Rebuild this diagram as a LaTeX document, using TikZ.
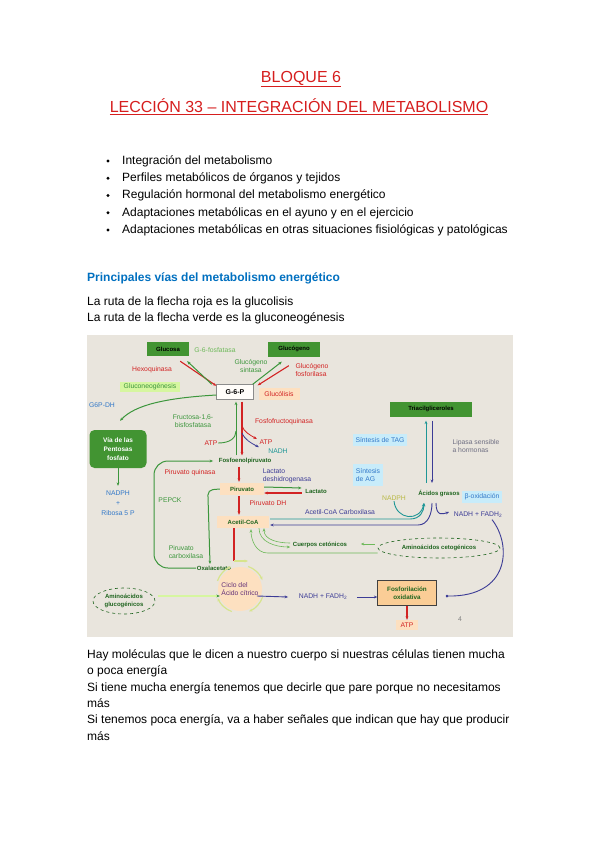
\documentclass[tikz,border=0pt]{standalone}
\usepackage{fontspec}
\setmainfont{Liberation Sans}
\usetikzlibrary{positioning,calc,arrows.meta,shapes.geometric}

\definecolor{titlered}{RGB}{214,30,30}
\definecolor{headblue}{RGB}{0,112,192}
\definecolor{slidebg}{RGB}{233,229,221}
\definecolor{boxgreen}{RGB}{66,148,50}
\definecolor{dkgreen}{RGB}{30,100,30}
\definecolor{mgreen}{RGB}{60,150,60}
\definecolor{lgreen}{RGB}{110,185,90}
\definecolor{lgfill}{RGB}{214,246,160}
\definecolor{redd}{RGB}{210,35,35}
\definecolor{navy}{RGB}{60,60,150}
\definecolor{skyblue}{RGB}{50,120,200}
\definecolor{tealc}{RGB}{30,150,150}
\definecolor{lblue}{RGB}{200,236,250}
\definecolor{peach}{RGB}{253,224,192}
\definecolor{peachdk}{RGB}{250,205,150}
\definecolor{olive}{RGB}{185,185,70}
\definecolor{cycc}{RGB}{215,228,140}
\definecolor{greyblue}{RGB}{110,110,130}

\tikzset{
  body/.style={anchor=west, inner sep=0pt, text height=9pt, text depth=2.5pt,
    font=\fontsize{12}{14}\selectfont},
  lbl/.style={inner sep=0.6pt, align=center, font=\fontsize{6.8}{8}\selectfont},
  bl/.style={inner sep=0.6pt, align=center, font=\bfseries\fontsize{6}{7.5}\selectfont},
  gbox/.style={bl, fill=boxgreen, minimum height=14pt},
  softbox/.style={lbl, fill=lblue},
  redarr/.style={->, draw=redd, line width=1.1pt},
  grarr/.style={->, draw=mgreen, line width=1pt},
  lgrarr/.style={->, draw=lgreen, line width=0.6pt},
  tealarr/.style={->, draw=tealc, line width=0.9pt},
  purarr/.style={->, draw=navy, line width=0.9pt},
  cycarr/.style={->, draw=cycc, line width=1.3pt},
  aaell/.style={ellipse, draw=dkgreen, dashed, line width=0.6pt, inner sep=0pt,
    bl, text=dkgreen}
}

\begin{document}
\begin{tikzpicture}[x=1pt, y=-1pt, >={Stealth[length=3.4pt,width=2.8pt]}]
\useasboundingbox (0,0) rectangle (599,848);
\fill[white] (0,0) rectangle (599,848);

% headings
\node[text=titlered, font=\fontsize{16}{18}\selectfont] (bloque) at (301,79) {\underline{BLOQUE 6}};
\node[text=titlered, font=\fontsize{16}{18}\selectfont] (leccion) at (299,107)
  {\underline{LECCIÓN 33 – INTEGRACIÓN DEL METABOLISMO}};

% bullet list
\foreach \txt [count=\i] in {Integración del metabolismo,
    Perfiles metabólicos de órganos y tejidos,
    Regulación hormonal del metabolismo energético,
    Adaptaciones metabólicas en el ayuno y en el ejercicio,
    Adaptaciones metabólicas en otras situaciones fisiológicas y patológicas}{
  \node[body] (item\i) at (122,{161+17.25*(\i-1)}) {\txt};
  \fill ($(item\i.west)+(-14,0)$) circle (1.7pt);
}

\node[body, text=headblue, font=\bfseries\fontsize{12}{14}\selectfont] (vias) at (87,278)
  {Principales vías del metabolismo energético};
\node[body] (roja) at (87,302) {La ruta de la flecha roja es la glucolisis};
\node[body, below=4.5pt of roja.south west, anchor=north west] (verde)
  {La ruta de la flecha verde es la gluconeogénesis};

% the slide
\fill[slidebg] (87,335) rectangle (513,637);

\node[gbox, minimum width=42pt] (glucosa) at (168,349) {Glucosa};
\node[gbox, minimum width=52pt, minimum height=15pt] (glucogeno) at (294,349) {Glucógeno};
\node[lbl, text=lgreen] (gfosfatasa) at (215,350) {G-6-fosfatasa};
\node[lbl, text=redd] (hexo) at (152,370) {Hexoquinasa};
\node[lbl, text=mgreen] (gsint) at (251,366) {Glucógeno\\sintasa};
\node[lbl, text=redd, align=left] (gfosf) at (312,370) {Glucógeno\\fosforilasa};
\node[bl, draw=black!45, fill=white!92!peach, minimum width=37pt, minimum height=15pt,
  font=\bfseries\fontsize{7}{8}\selectfont] (g6p) at (235,392) {G-6-P};
\node[lbl, fill=peach, text=redd, minimum width=41pt, minimum height=12pt] (glucolisis) at (279,394) {Glucólisis};
\node[lbl, fill=lgfill, text=mgreen, minimum width=60pt, minimum height=10pt] (gneo) at (150,387) {Gluconeogénesis};
\node[lbl, text=skyblue] (g6pdh) at (102,405) {G6P-DH};
\node[bl, fill=boxgreen, text=white, rounded corners=5pt, minimum width=57pt, minimum height=38pt,
  font=\bfseries\fontsize{6.5}{9}\selectfont] (pentosas) at (118,449) {Vía de las\\Pentosas\\fosfato};
\node[lbl, text=skyblue, font=\fontsize{6.8}{10}\selectfont] (nadphr) at (118,503) {NADPH\\+\\Ribosa 5 P};

\node[lbl, text=mgreen] (fbp) at (193,421) {Fructosa-1,6-\\bisfosfatasa};
\node[lbl, text=redd] (pfk) at (284,422) {Fosfofructoquinasa};
\node[lbl, text=redd] (atpl) at (211,443) {ATP};
\node[lbl, text=redd] (atpr) at (266,442) {ATP};
\node[lbl, text=tealc] (nadh1) at (278,451) {NADH};
\node[bl, text=dkgreen] (pep) at (245,461) {Fosfoenolpiruvato};
\node[lbl, text=redd] (pk) at (190,473) {Piruvato quinasa};
\node[lbl, text=mgreen] (pepck) at (170,500) {PEPCK};
\node[bl, fill=peach, text=dkgreen, minimum width=44pt, minimum height=12pt] (piruvato) at (242,489) {Piruvato};
\node[lbl, text=navy, align=left] (ldh) at (287,476) {Lactato\\deshidrogenasa};
\node[bl, text=dkgreen] (lactato) at (316,491) {Lactato};
\node[lbl, text=redd] (pdh) at (268,503) {Piruvato DH};
\node[bl, fill=peach, text=dkgreen, minimum width=52pt, minimum height=12pt] (acetil) at (243,522) {Acetil-CoA};
\node[lbl, text=mgreen, align=left] (pcarb) at (186,552) {Piruvato\\carboxilasa};
\node[bl, text=dkgreen] (oxal) at (214,568) {Oxalacetato};
\node[circle, fill=peach, minimum size=44pt, inner sep=0pt, lbl, align=left, text=navy!80!red]
  (ciclo) at (240,589) {Ciclo del\\Ácido cítrico};
\node[aaell, minimum width=62pt, minimum height=26pt] (aaglu) at (124,601) {Aminoácidos\\glucogénicos};
\node[lbl, text=navy] (nadh2) at (323,597) {NADH + FADH\textsubscript{2}};
\node[bl, draw=black!75, fill=peachdk, text=dkgreen, minimum width=59pt, minimum height=25pt,
  font=\bfseries\fontsize{6.3}{8}\selectfont] (fosfox) at (407,593) {Fosforilación\\oxidativa};
\node[lbl, fill=peach, text=redd, minimum width=22pt, minimum height=10pt] (atpb) at (407,625) {ATP};
\node[lbl, text=gray] (pgno) at (460,619) {4};
\node[bl, text=dkgreen] (cuerpos) at (320,545) {Cuerpos cetónicos};
\node[aaell, minimum width=122pt, minimum height=20pt] (aaceto) at (439,548) {Aminoácidos cetogénicos};

\node[gbox, minimum width=82pt, minimum height=15pt] (tag) at (431,409) {Triacilgliceroles};
\node[softbox, text=skyblue, minimum width=54pt, minimum height=12pt] (sinttag) at (380,440) {Síntesis de TAG};
\node[lbl, text=greyblue, align=left] (lipasa) at (476,446) {Lipasa sensible\\a hormonas};
\node[softbox, text=skyblue, minimum width=30pt, minimum height=22pt, align=left] (sintag) at (368,475) {Síntesis\\de AG};
\node[bl, text=dkgreen] (acgrasos) at (439,493) {Ácidos grasos};
\node[lbl, text=olive] (nadph2) at (394,498) {NADPH};
\node[lbl, text=navy] (accarb) at (340,512) {Acetil-CoA Carboxilasa};
\node[softbox, text=skyblue, minimum width=40pt, minimum height=12pt] (boxid) at (482,497) {β-oxidación};
\node[lbl, text=navy] (nadh3) at (478,515) {NADH + FADH\textsubscript{2}};

\coordinate (glj) at (236,431);
\coordinate (rj1) at (242,426);
\coordinate (rj2) at (242,433);
\coordinate (cc) at (234,561);
\coordinate (ccin) at (248,561);
\coordinate (agtip) at (424,503);

% glucose / glycogen
\draw[redarr] ($(glucosa.south east)+(-9,5)$) -- ($(g6p.north west)+(0,1.5)$);
\draw[grarr] ($(g6p.north west)+(-4.5,0)$) -- ($(glucosa.south east)+(-2,5)$);
\draw[grarr] ($(g6p.north east)+(-1,0)$) -- ($(glucogeno.south west)+(14,5)$);
\draw[redarr] ($(glucogeno.south west)+(21,9)$) -- ($(g6p.north east)+(4,1)$);
\draw[grarr] ($(g6p.west)+(0,3)$) .. controls (165,398) and (135,405) .. ($(pentosas.north)+(2,-9)$);
\draw[grarr] (pentosas.south) -- ($(nadphr.north)+(0,-4)$);

% glycolysis / gluconeogenesis
\draw[grarr] ($(pep.north)+(-9,-2)$) -- ($(g6p.south)+(1,2)$);
\draw[redarr] ($(g6p.south)+(7,2)$) -- ($(pep.north)+(-3,-2)$);
\draw[mgreen, line width=0.9pt] (atpl.east) .. controls (230,443) and (236,438) .. (glj);
\draw[redarr, line width=0.8pt] (rj1) .. controls (244,432) and (250,435) .. ($(atpr.west)+(-2,-3)$);
\draw[purarr, line width=0.8pt] (rj2) .. controls (245,440) and (251,443) .. ($(atpr.south west)+(0,2)$);
\draw[redarr] ($(pep.south)+(-6,2)$) -- ($(piruvato.north)+(-3,-1)$);
\draw[grarr] ($(piruvato.east)+(0,-2)$) -- ($(lactato.west)+(-3,-3)$);
\draw[redarr] ($(lactato.west)+(-3,2)$) -- ($(piruvato.east)+(0,4)$);
\draw[redarr] ($(piruvato.south)+(-3,1)$) -- ($(acetil.north)+(-4,-1)$);
\draw[redd, line width=1.1pt] ($(acetil.south)+(-9,0)$) -- (cc);
\draw[cycarr] (cc) -- (ccin);
\draw[grarr, rounded corners=5pt] (piruvato.west) -- ++(-12,1) -- ($(oxal.north)+(-4,-1)$);
\draw[grarr, rounded corners=14pt, shorten >=5pt] (oxal.west) -- (154,568) -- (154,461) -- (pep.west);

% citric acid cycle
\foreach \a in {20,110,200,290}
  \draw[cycarr, line width=1.2pt] ($(ciclo.center)+(\a:24)$) arc[start angle=\a, end angle=\a+48, radius=24];
\draw[grarr, line width=0.5pt, double=lgfill, double distance=1.4pt] ($(aaglu.east)+(3,-5)$) -- ($(ciclo.west)+(2,7)$);
\draw[purarr] ($(ciclo.center)+(17,7)$) -- ($(nadh2.west)+(-10,0)$);
\draw[purarr] ($(nadh2.east)+(9,0)$) -- ($(fosfox.west)+(0,4)$);
\draw[redarr] (fosfox.south) -- (atpb.north);

% ketone bodies
\draw[lgrarr] ($(aaceto.west)+(-3,-4)$) -- ($(cuerpos.east)+(13,-1)$);
\draw[lgrarr] ($(aaceto.west)+(0,5)$) -- ++(-110,0) to[out=180,in=-90] ($(acetil.south)+(8,1)$);
\draw[lgrarr] ($(acetil.south)+(16,0)$) to[out=-90,in=180] ($(cuerpos.west)+(-2,2)$);
\draw[lgrarr] ($(cuerpos.west)+(-2,-2)$) to[out=180,in=-90] ($(acetil.south)+(21,0)$);

% fatty acids
\draw[tealarr] ($(acgrasos.north)+(-13,-6)$) -- ($(tag.south)+(-5,4)$);
\draw[purarr] ($(tag.south)+(1,4)$) -- ($(acgrasos.north)+(-7,-6)$);
\draw[tealarr] (nadph2.south) .. controls (396,520) and (420,522) .. (agtip);
\draw[tealarr] ($(acetil.east)+(1,-3)$) -- ++(140,0) .. controls +(10,0) and +(0,8) .. (agtip);
\draw[purarr] ($(agtip)+(8,0)$) to[out=-90,in=0] ++(-14,22) -- ($(acetil.east)+(1,3)$);
\draw[purarr] ($(agtip)+(12,0)$) .. controls +(0,14) and +(-6,2) .. ($(nadh3.west)+(-4,-3)$);
\draw[navy, line width=0.9pt, -{Circle[length=2.6pt]}] ($(nadh3.south)+(14,1)$)
  .. controls (512,545) and (510,597) .. ($(fosfox.east)+(9,3)$);

% text under the slide
\node[body] (hay) at (87,655) {Hay moléculas que le dicen a nuestro cuerpo si nuestras células tienen mucha};
\node[body, below=4.5pt of hay.south west, anchor=north west] (poca) {o poca energía};
\node[body, below=4.5pt of poca.south west, anchor=north west] (mucha)
  {Si tiene mucha energía tenemos que decirle que pare porque no necesitamos};
\node[body, below=4.5pt of mucha.south west, anchor=north west] (mas1) {más};
\node[body, below=4.5pt of mas1.south west, anchor=north west] (tenemos)
  {Si tenemos poca energía, va a haber señales que indican que hay que producir};
\node[body, below=4.5pt of tenemos.south west, anchor=north west] (mas2) {más};
\end{tikzpicture}
\end{document}
